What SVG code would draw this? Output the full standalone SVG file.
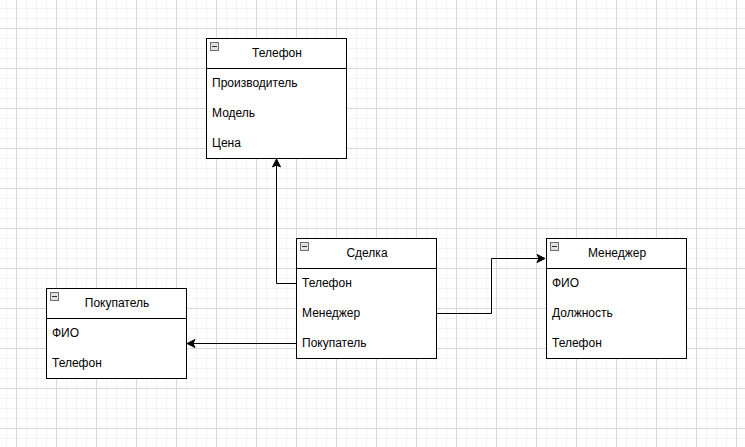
<svg xmlns="http://www.w3.org/2000/svg" width="745" height="447" viewBox="0 0 745 447">
<style>
.box{fill:#fff;stroke:#000;stroke-width:1}
.sep{stroke:#000;stroke-width:1}
.t{font-family:"Liberation Sans",Arial,sans-serif;font-size:12px;fill:#000}
.ic{fill:#e0e0e0;stroke:#6e6e6e;stroke-width:1}
.icm{stroke:#333;stroke-width:1}
.edge{fill:none;stroke:#000;stroke-width:1}
</style>
<defs>
<pattern id="minor" x="6" y="8" width="10" height="10" patternUnits="userSpaceOnUse">
<path d="M0.5 0V10M0 0.5H10" stroke="#f3f3f3" stroke-width="1" fill="none"/>
</pattern>
<pattern id="major" x="16" y="28" width="40" height="40" patternUnits="userSpaceOnUse">
<path d="M0.5 0V40M0 0.5H40" stroke="#d9d9d9" stroke-width="1" fill="none"/>
</pattern>
<marker id="arr" markerWidth="10" markerHeight="10" refX="9" refY="5" orient="auto" markerUnits="userSpaceOnUse">
<path d="M1,1 L9,5 L1,9 L3,5 Z" fill="#000" stroke="#000" stroke-width="1"/>
</marker>
<g id="icon">
<rect class="ic" x="0.5" y="0.5" width="8" height="8"/>
<line class="icm" x1="2" y1="4.5" x2="7" y2="4.5"/>
</g>
</defs>
<rect width="745" height="447" fill="#fff"/>
<rect width="745" height="447" fill="url(#minor)"/>
<rect width="745" height="447" fill="url(#major)"/>

<g id="connectors">
<path class="edge" d="M296.5,283.5 H276.5 V159" marker-end="url(#arr)"/>
<path class="edge" d="M436.5,313.5 H491.5 V258.5 H545" marker-end="url(#arr)"/>
<path class="edge" d="M296.5,343.5 H187" marker-end="url(#arr)"/>
</g>

<g id="node-telefon">
<rect class="box" x="206.5" y="38.5" width="140" height="120"/>
<line class="sep" x1="206.5" y1="68.5" x2="346.5" y2="68.5"/>
<use href="#icon" x="210" y="42"/>
<text class="t" x="277" y="57" text-anchor="middle">Телефон</text>
<text class="t" x="212" y="87">Производитель</text>
<text class="t" x="212" y="117">Модель</text>
<text class="t" x="212" y="147">Цена</text>
</g>

<g id="node-sdelka">
<rect class="box" x="296.5" y="238.5" width="140" height="120"/>
<line class="sep" x1="296.5" y1="268.5" x2="436.5" y2="268.5"/>
<use href="#icon" x="300" y="242"/>
<text class="t" x="367" y="257" text-anchor="middle">Сделка</text>
<text class="t" x="302" y="287">Телефон</text>
<text class="t" x="302" y="317">Менеджер</text>
<text class="t" x="302" y="347">Покупатель</text>
</g>

<g id="node-pokupatel">
<rect class="box" x="46.5" y="288.5" width="140" height="90"/>
<line class="sep" x1="46.5" y1="318.5" x2="186.5" y2="318.5"/>
<use href="#icon" x="50" y="292"/>
<text class="t" x="117" y="307" text-anchor="middle">Покупатель</text>
<text class="t" x="52" y="337">ФИО</text>
<text class="t" x="52" y="367">Телефон</text>
</g>

<g id="node-menedzher">
<rect class="box" x="546.5" y="238.5" width="140" height="120"/>
<line class="sep" x1="546.5" y1="268.5" x2="686.5" y2="268.5"/>
<use href="#icon" x="550" y="242"/>
<text class="t" x="617" y="257" text-anchor="middle">Менеджер</text>
<text class="t" x="552" y="287">ФИО</text>
<text class="t" x="552" y="317">Должность</text>
<text class="t" x="552" y="347">Телефон</text>
</g>
</svg>
